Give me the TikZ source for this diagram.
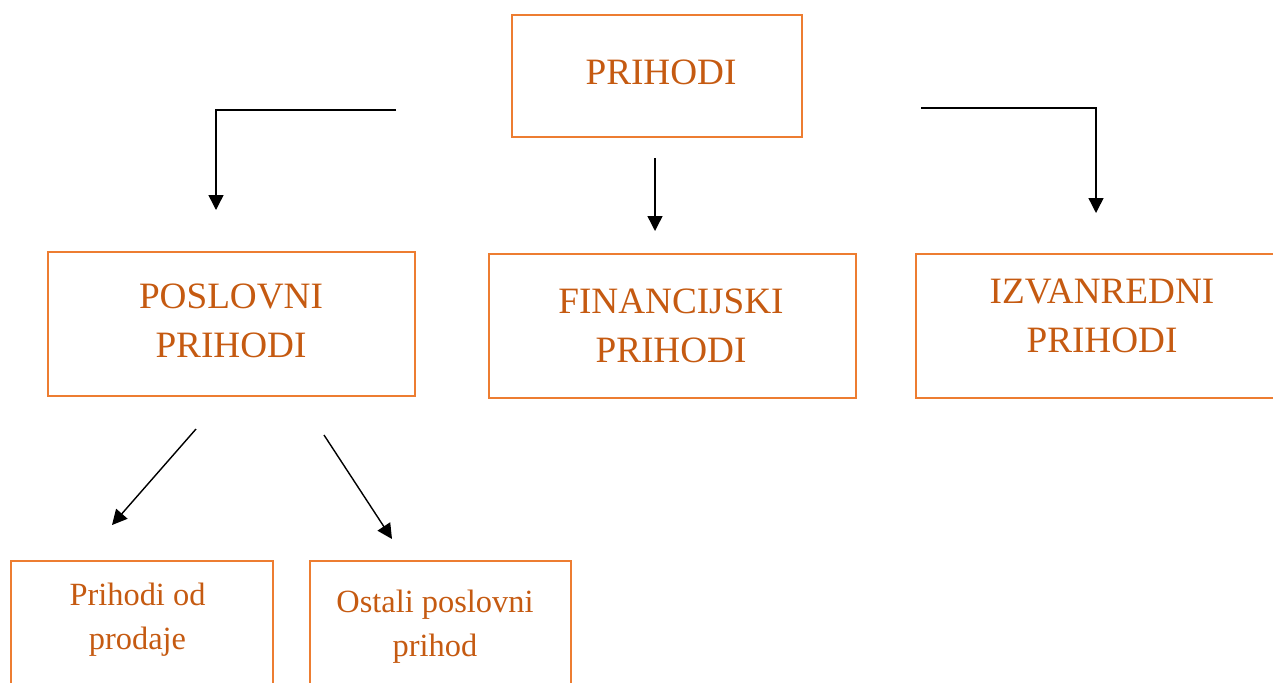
\documentclass[tikz,border=0pt]{standalone}
\usepackage{fontspec}
\setmainfont{Liberation Serif}
\usetikzlibrary{arrows.meta}
\definecolor{boxorange}{HTML}{ED7D31}
\definecolor{txtorange}{HTML}{C55A11}
\begin{document}
\begin{tikzpicture}[x=0.5pt,y=-0.5pt,
  box/.style={draw=boxorange,line width=1.2pt,inner sep=0pt,rectangle},
  bigtxt/.style={text=txtorange,align=center,inner sep=0pt,font=\fontsize{18.6}{24.5}\selectfont},
  smalltxt/.style={text=txtorange,align=center,inner sep=0pt,font=\fontsize{16.2}{22}\selectfont},
  conn/.style={line width=0.7pt,-{Triangle[width=7.5pt,length=7.5pt]}}]
\useasboundingbox (0,0) rectangle (1273,682);
% boxes
\node[box,minimum width=145pt,minimum height=61pt] (top) at (657,76) {};
\node[box,minimum width=183.5pt,minimum height=72pt] (pos) at (231.5,324) {};
\node[box,minimum width=183.5pt,minimum height=72pt] (fin) at (672.5,326) {};
\node[box,minimum width=186pt,minimum height=72pt] (izv) at (1102,326) {};
\node[box,minimum width=131pt,minimum height=80pt] (pod) at (142,641) {};
\node[box,minimum width=130.5pt,minimum height=80pt] (ost) at (440.5,641) {};
% texts
\node[bigtxt] (topt) at (661,72.5) {PRIHODI};
\node[bigtxt] (post) at (231,321) {POSLOVNI\\PRIHODI};
\node[bigtxt] (fint) at (671,326) {FINANCIJSKI\\PRIHODI};
\node[bigtxt] (izvt) at (1102,315.5) {IZVANREDNI\\PRIHODI};
\node[smalltxt] (podt) at (137.5,619.5) {Prihodi od\\prodaje};
\node[smalltxt] (ostt) at (435,627) {Ostali poslovni\\prihod};
% connector end points
\coordinate (l1) at (396,110);
\coordinate (l2) at (216,110);
\coordinate (l3) at (216,210);
\coordinate (c1) at (655,158);
\coordinate (c2) at (655,231);
\coordinate (r1) at (921,108);
\coordinate (r2) at (1096,108);
\coordinate (r3) at (1096,213);
\coordinate (d1s) at (196,429);
\coordinate (d1e) at (112,525);
\coordinate (d2s) at (324,435);
\coordinate (d2e) at (392,539);
% connectors
\draw[conn] (l1) -- (l2) -- (l3);
\draw[conn] (c1) -- (c2);
\draw[conn] (r1) -- (r2) -- (r3);
\draw[conn] (d1s) -- (d1e);
\draw[conn] (d2s) -- (d2e);
\end{tikzpicture}
\end{document}
